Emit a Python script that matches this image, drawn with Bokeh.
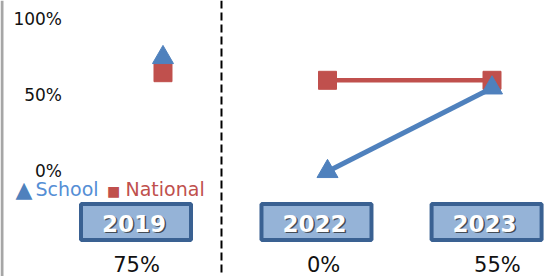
from bokeh.plotting import figure
from bokeh.models import Range1d, Span, Label, ColumnDataSource
from bokeh.core.properties import value
from bokeh.embed import file_html
from bokeh.resources import INLINE

# ---- data ----
years = ["2019", "2022", "2023"]
school = [75, 0, 55]
national = [65, 60, 60]
y_ticks = [0, 50, 100]
y_tick_labels = ["0%", "50%", "100%"]
series_names = ["School", "National"]

# ---- style / layout constants ----
BLUE = "#4F81BD"
RED = "#C0504D"
BOX_FILL = "#95B3D7"
BOX_LINE = "#3A6192"
FONT = "DejaVu Sans"
box_dx = [-0.164, -0.067, -0.033]
label_dx = [-0.161, -0.024, 0.033]

xs = list(range(len(years)))

p = figure(width=544, height=276, output_backend="svg", toolbar_location=None,
           x_range=Range1d(-0.9878, 2.3191), y_range=Range1d(-69.08, 112.5),
           x_axis_location=None, y_axis_location=None, min_border=0)
p.outline_line_color = None
p.grid.visible = False
p.background_fill_color = "white"
p.border_fill_color = "white"

# left grey edge
p.add_layout(Span(location=-0.9787, dimension="height", line_color="#A6A6A6", line_width=3))

# y tick labels
tsrc = ColumnDataSource(dict(x=[-0.614] * len(y_ticks), y=y_ticks, t=y_tick_labels))
p.text(x="x", y="y", text="t", source=tsrc, text_align="right", text_baseline="middle",
       text_font=value(FONT), text_font_size="17px", text_color="#111111")

# divider between 2019 and later years
p.add_layout(Span(location=0.3556, dimension="height", line_color="black",
                  line_width=2, line_dash="8 4"))

# national series
p.line(xs[1:], national[1:], line_color=RED, line_width=4.5)
p.scatter(xs, national, marker="square", size=18, fill_color=RED, line_color=RED)

# school series
p.line(xs[1:], school[1:], line_color=BLUE, line_width=5)
p.scatter(xs, school, marker="triangle", size=21, fill_color=BLUE, line_color=BLUE)

# year boxes
bx = [x + d for x, d in zip(xs, box_dx)]
p.rect(x=bx, y=[-33.2] * len(xs), width=110, height=36, width_units="screen",
       height_units="screen", fill_color=BOX_FILL, line_color=BOX_LINE, line_width=4)
src = ColumnDataSource(dict(x=[b - 0.012 for b in bx], y=[-33.9] * len(xs), t=years))
p.text(x="x", y="y", text="t", source=src, x_offset=1.5, y_offset=1.5,
       text_align="center", text_baseline="middle", text_font=value(FONT),
       text_font_style="bold", text_font_size="23px", text_color="#2b2b2b", text_alpha=0.75)
p.text(x="x", y="y", text="t", source=src,
       text_align="center", text_baseline="middle", text_font=value(FONT),
       text_font_style="bold", text_font_size="23px", text_color="white")

# school value labels below boxes
lsrc = ColumnDataSource(dict(x=[x + d for x, d in zip(xs, label_dx)],
                             y=[-61.5] * len(xs), t=[f"{v}%" for v in school]))
p.text(x="x", y="y", text="t", source=lsrc, text_align="center",
       text_baseline="middle", text_font=value(FONT), text_font_size="21px",
       text_color="#111111")

# legend
p.add_layout(Label(x=-0.897, y=-11.8, text="\u25B2", text_color=BLUE,
                   text_font=FONT, text_font_size="22px", text_baseline="middle"))
p.add_layout(Label(x=-0.775, y=-11.8, text=series_names[0], text_color="#558ED5",
                   text_font=FONT, text_font_size="19px", text_baseline="middle"))
p.add_layout(Label(x=-0.34, y=-13.0, text="\u25A0", text_color=RED,
                   text_font=FONT, text_font_size="14px", text_baseline="middle"))
p.add_layout(Label(x=-0.228, y=-11.8, text=series_names[1], text_color=RED,
                   text_font=FONT, text_font_size="19px", text_baseline="middle"))

open("out.html", "w").write(file_html(p, INLINE))
